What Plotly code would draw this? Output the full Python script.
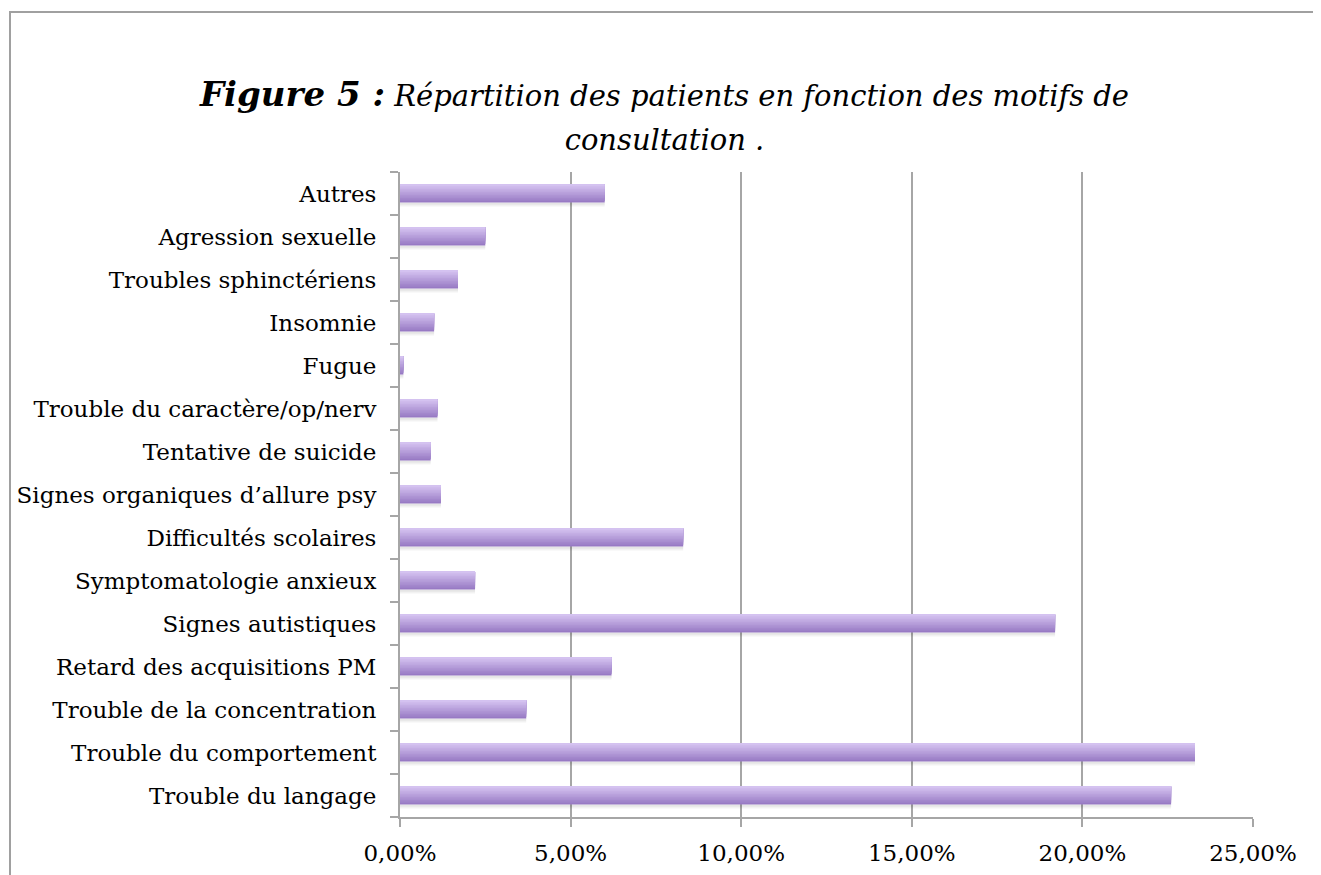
import plotly.graph_objects as go

categories = [
    "Trouble du langage",
    "Trouble du comportement",
    "Trouble de la concentration",
    "Retard des acquisitions PM",
    "Signes autistiques",
    "Symptomatologie anxieux",
    "Difficultés scolaires",
    "Signes organiques d\u2019allure psy",
    "Tentative de suicide",
    "Trouble du caractère/op/nerv",
    "Fugue",
    "Insomnie",
    "Troubles sphinctériens",
    "Agression sexuelle",
    "Autres",
]
values_pct = [22.6, 23.3, 3.7, 6.2, 19.2, 2.2, 8.3, 1.2, 0.9, 1.1, 0.1, 1.0, 1.7, 2.5, 6.0]
x_ticks_pct = [0, 5, 10, 15, 20, 25]

values = [v / 100 for v in values_pct]

PAGE_OFF = 8  # default body margin of the page
W, H = 1321 - PAGE_OFF, 875 - PAGE_OFF
ML, MR, MT, MB = 400 - PAGE_OFF, 68, 172 - PAGE_OFF, 58
PW, PH = W - ML - MR, H - MT - MB
FONT = "DejaVu Serif"

fig = go.Figure()

bar_w = 0.42
# soft shadow under the bars
fig.add_trace(go.Bar(
    y=categories, x=values, orientation="h",
    width=0.05, offset=-bar_w / 2 - 0.05,
    marker=dict(color="rgba(0,0,0,0.10)", line=dict(width=0)),
    hoverinfo="skip", showlegend=False,
))
fig.add_trace(go.Bar(
    y=categories, x=values, orientation="h",
    width=0.04, offset=-bar_w / 2 - 0.09,
    marker=dict(color="rgba(0,0,0,0.05)", line=dict(width=0)),
    hoverinfo="skip", showlegend=False,
))

# vertical gradient: darker purple at bottom to light lavender at top
top = (212, 194, 240)
bot = (152, 122, 196)
n = 12
strip = bar_w / n
for i in range(n):
    t = i / (n - 1)
    c = tuple(round(bot[k] + (top[k] - bot[k]) * t) for k in range(3))
    fig.add_trace(go.Bar(
        y=categories, x=values, orientation="h",
        width=bar_w - i * strip, offset=-bar_w / 2 + i * strip,
        marker=dict(color="rgb(%d,%d,%d)" % c, line=dict(width=0)),
        hoverinfo="x+y" if i == 0 else "skip", showlegend=False,
    ))

fig.update_layout(
    width=W, height=H,
    margin=dict(l=ML, r=MR, t=MT, b=MB, autoexpand=False),
    paper_bgcolor="white", plot_bgcolor="white",
    barmode="overlay",
    separators=", ",
    showlegend=False,
    font=dict(family=FONT, size=23, color="black"),
    title=dict(
        text="<b>Figure 5 :</b><span style='font-size:29px'> Répartition des patients en fonction des motifs de</span>"
             "<br><span style='font-size:29px'>consultation .</span>",
        x=0.5, xanchor="center", xref="container",
        y=1 - 98 / H, yanchor="top",
        font=dict(family=FONT, size=34, color="black", style="italic"),
    ),
    xaxis=dict(
        range=[0, 0.25],
        tickvals=[v / 100 for v in x_ticks_pct],
        tickformat=".2%",
        showgrid=True, gridcolor="#a6a6a6", gridwidth=2,
        zeroline=False,
        showline=True, linecolor="#a6a6a6", linewidth=2,
        ticks="outside", ticklen=8, tickcolor="#a6a6a6", tickwidth=2,
        ticklabelstandoff=6,
        tickfont=dict(family=FONT, size=23, color="black"),
        automargin=False,
        fixedrange=True,
    ),
    yaxis=dict(
        categoryorder="array", categoryarray=categories,
        showline=True, linecolor="#a6a6a6", linewidth=2,
        ticks="outside", ticklen=8, tickcolor="#a6a6a6", tickwidth=2,
        tickson="boundaries",
        showgrid=False, zeroline=False,
        ticklabelstandoff=17,
        tickfont=dict(family=FONT, size=23, color="black"),
        automargin=False,
        fixedrange=True,
    ),
    shapes=[dict(
        type="rect", xref="paper", yref="paper",
        x0=(10 - PAGE_OFF - ML) / PW, x1=(W + 20 - ML) / PW,
        y0=-(MB + 20) / PH, y1=1 + (MT - (12 - PAGE_OFF)) / PH,
        line=dict(color="#a0a0a0", width=2), fillcolor="rgba(0,0,0,0)",
        layer="below",
    )],
)

fig.write_html("out.html")
